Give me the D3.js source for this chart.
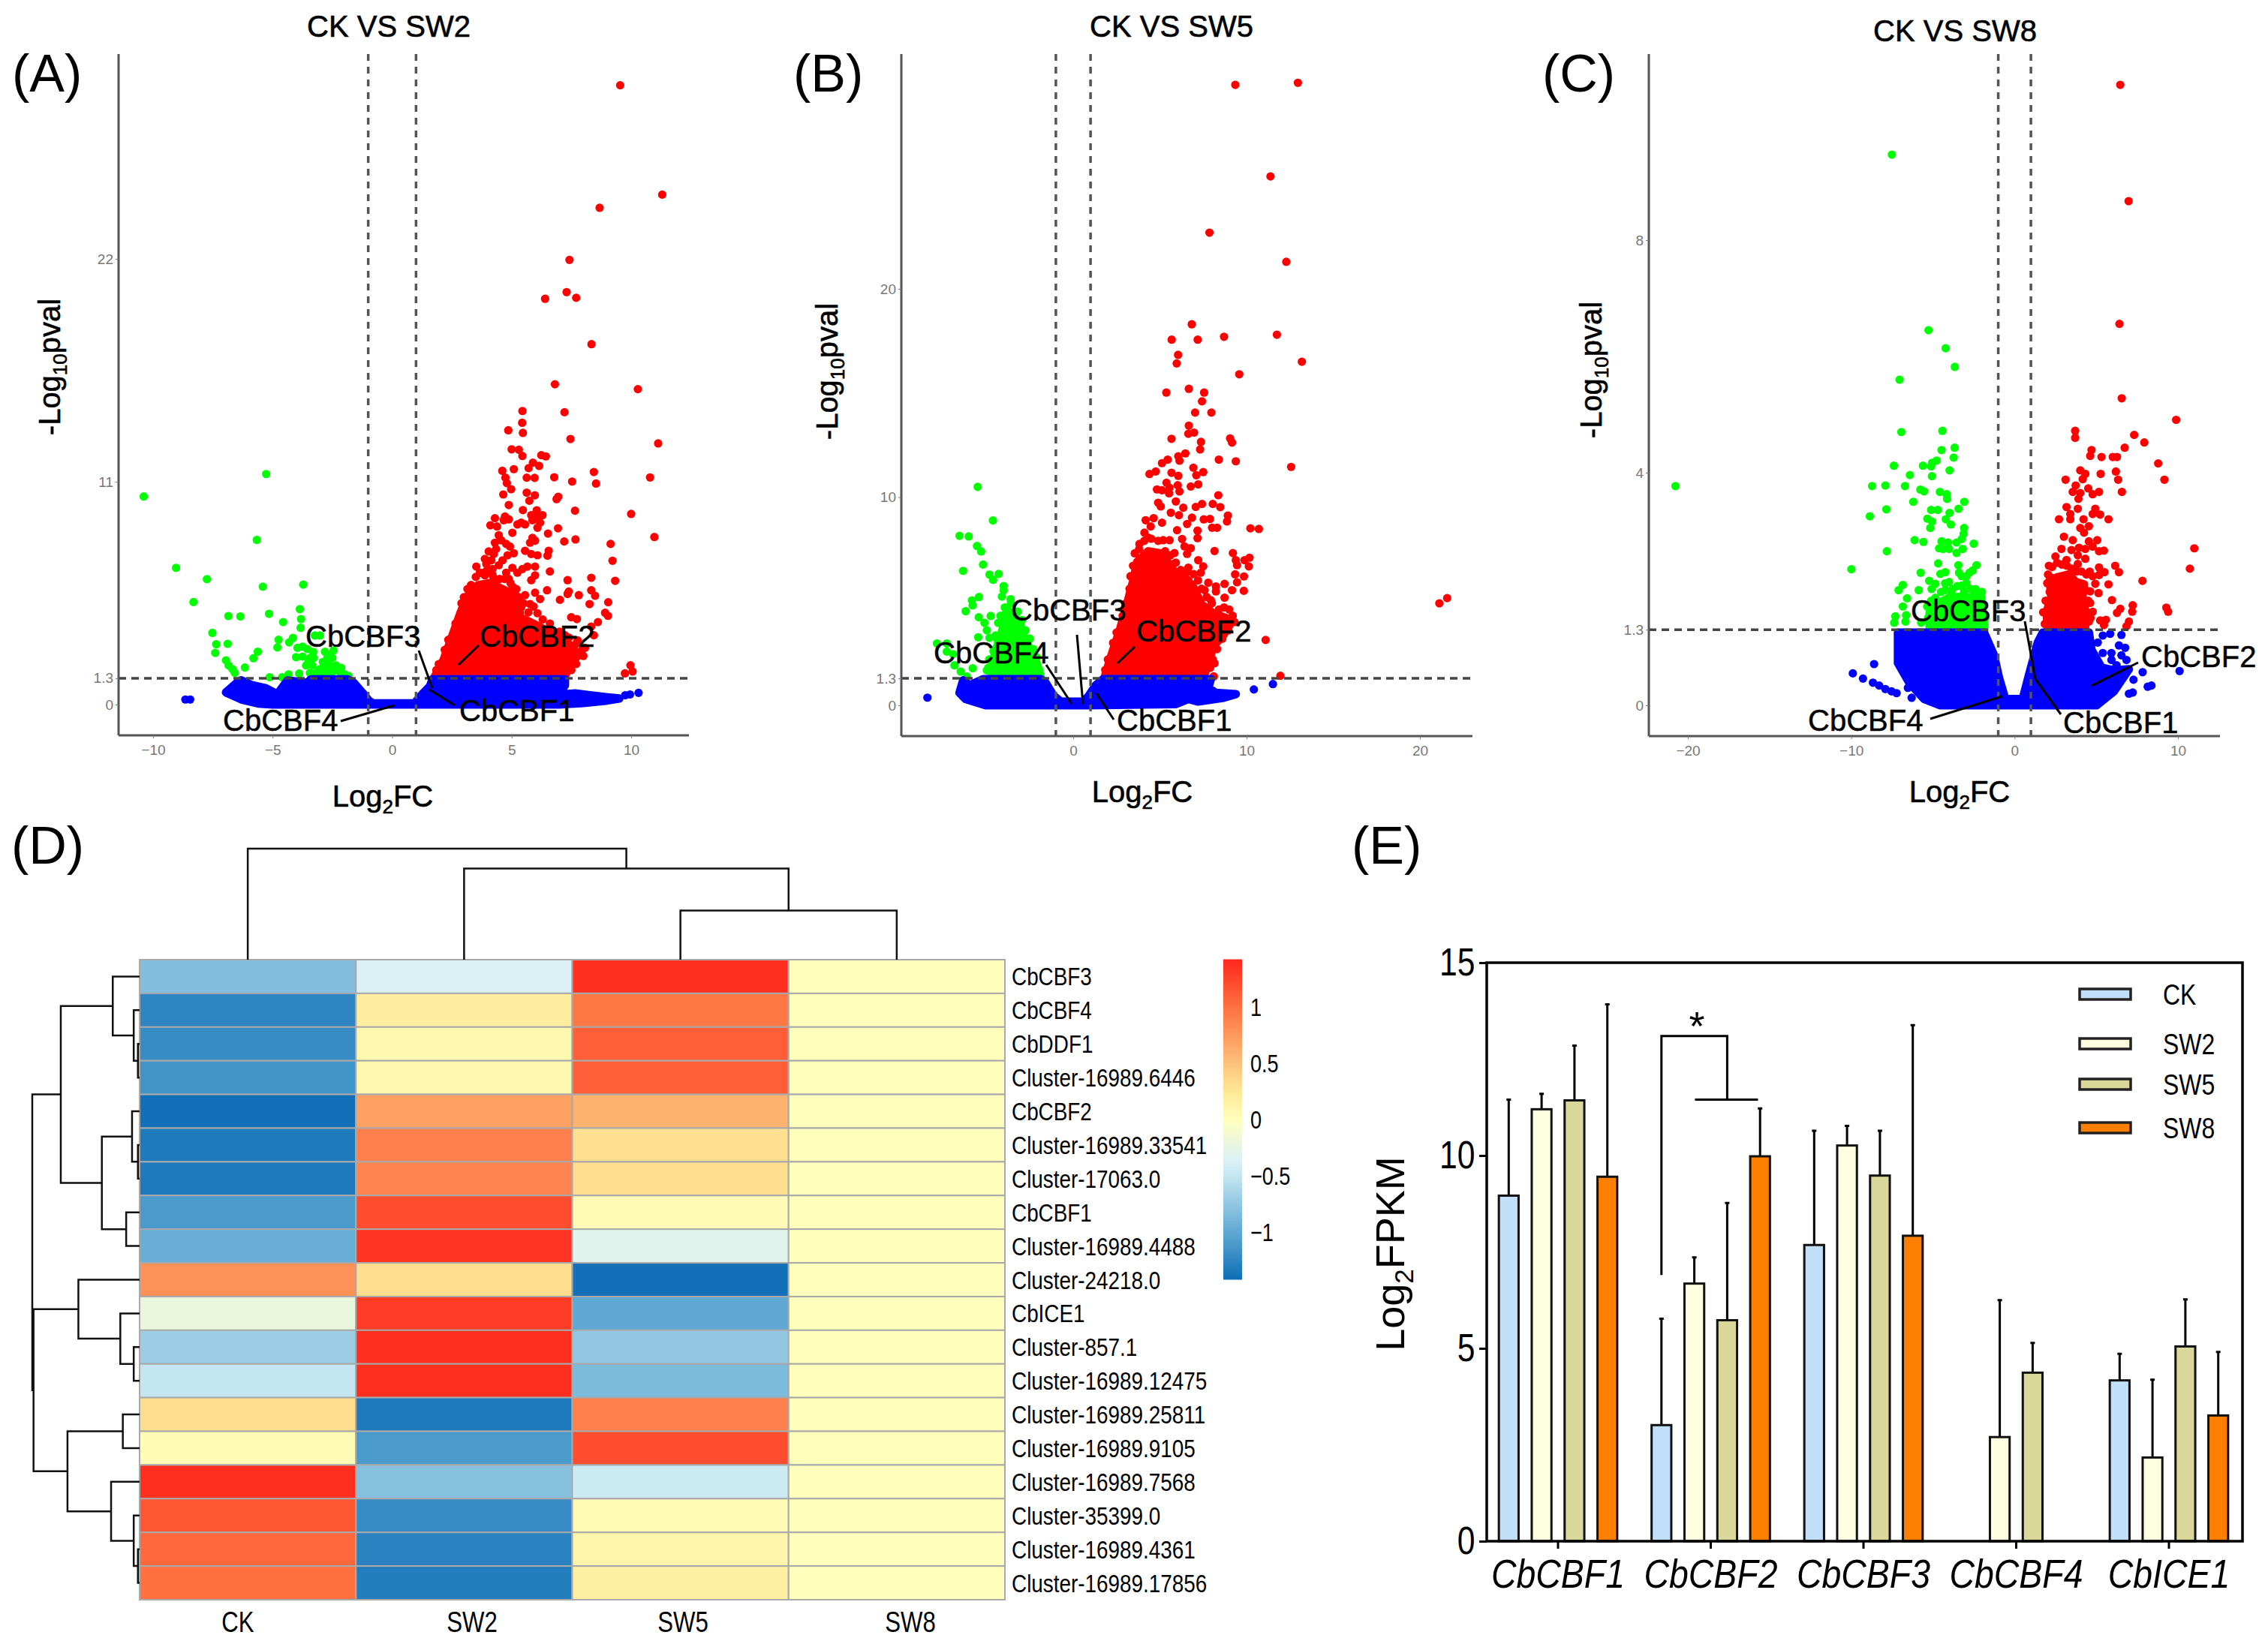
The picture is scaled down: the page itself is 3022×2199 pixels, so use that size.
<!DOCTYPE html>
<html>
<head>
<meta charset="utf-8">
<title>CBF volcano, heatmap and FPKM panels</title>
<script src="https://cdn.jsdelivr.net/npm/d3@7"></script>
<style>
  body { margin: 0; background: #fff; }
  text { font-family: "Liberation Sans", Arial, sans-serif; fill: #000; }
  .vol-tick text { fill: #777; font-size: 19px; }
</style>
</head>
<body>
<div class="chart"></div>
<script>
/* ---- panel A: CK VS SW2, points are [log2FC, -log10 pval] ---- */
const redA = [[9.54,30.57],[11.3,25.17],[8.68,24.52],[7.42,21.95],[7.3,20.36],[7.7,20.08],[6.4,20.03],[8.34,17.79],
  [6.81,15.81],[10.28,15.57],[5.45,14.49],[7.21,14.43],[5.44,13.91],[4.86,13.54],[5.47,13.41],[7.46,13.11],[11.13,12.89],
  [5,12.6],[5.3,12.58],[5.45,12.27],[6.24,12.31],[6.43,12.25],[5.89,11.94],[6.15,11.78],[5.71,11.67],[4.61,11.54],[5.09,11.62],
  [8.44,11.48],[5.63,11.2],[5.96,11.19],[6.78,11.22],[10.79,11.21],[7.53,11.01],[8.53,10.91],[4.74,11.2],[4.8,10.93],[4.98,10.63],
  [4.65,10.37],[5.63,10.46],[5.97,10.33],[5.74,10.06],[6.95,10.26],[6.88,10.14],[4.88,9.85],[5.47,9.6],[6.05,9.59],[7.65,9.57],
  [10,9.41],[5.82,9.35],[6.29,9.35],[6.03,9.28],[4.3,9.2],[4.72,9.28],[4.88,9.14],[4.67,9.1],[4.11,8.85],[4.39,8.79],[5.24,8.89],
  [5.56,8.89],[5.4,8.98],[6.19,8.98],[6.08,8.73],[5.87,9.1],[5.03,8.48],[6.52,8.44],[6.94,8.7],[10.97,8.27],[7.2,8.05],[7.67,8.15],
  [5.87,8.23],[5.77,7.99],[5.98,8.09],[9.14,7.93],[4.46,8.36],[4.56,8.11],[4.77,7.93],[4.3,7.99],[4.93,7.8],[9.22,7.1],[6.6,6.57],
  [8.33,6.26],[7.34,6.14],[9.33,6.11],[6.48,5.64],[7.02,5.17],[7.39,5.58],[7.34,5.46],[7.81,5.4],[8.33,5.64],[8.49,5.37],[8.26,4.96],
  [9.04,5.05],[8.91,4.53],[9.03,4.38],[7.49,4.31],[7.73,4.22],[8.61,4.07],[8.33,3.85],[8.44,3.42],[8.07,2.8],[7.86,2.49],[9.97,1.94],
  [9.74,1.54],[10.06,1.63],[5.98,5.52],[6.19,5.21],[5.77,4.96],[6.08,4.51],[5.92,4.84],[5.56,5.4],[5.98,6.81],[5.98,6.38],[5.82,6.14],
  [5.66,6.81],[5.24,6.51],[5.45,6.69],[5.03,6.75],[4.77,6.51],[4.88,6.2],[4.04,7.56],[5.09,7.47],[3.88,7.19],[4.35,7.68],[4.25,7.43],
  [4.62,7.12],[4.15,7.12],[4.83,7.37],[5.56,7.59],[5.82,7.43],[6.08,7.37],[6.55,7.59],[6.5,7.35],[3.52,6.81],[3.67,6.51],[3.94,6.94],
  [4.2,6.69],[4.46,6.88],[4.25,6.26],[3.88,6.38],[5.14,5.64],[5.3,5.27],[5.03,5.83],[7.23,3.42],[7.76,3.17],
  [2.9,5],[3,5.3],[3.15,5.7],[3.3,5.9],[3.5,6.3],[3.75,6.5],[3.95,6.6],[4.2,6.4],[4.5,6.2],[4.7,6.2],[4.95,6],[5.2,5.7],[5.5,5],[5.4,4.8],
  [5.7,4.55],[6.3,4.2],[6.6,4],[7,3.6],[7.4,3.3],[7.7,3],[7.95,2.7],[8,2.4],[7.7,2],[7.5,1.7],[2.65,4],[2.35,3.2],[2.2,2.7],[1.95,2],[1.85,1.7]];
const redCoreA = [[1.75,1.3],[2.15,2.2],[2.55,3.5],[2.85,4.5],[3.15,5.35],[3.6,5.9],[4.09,6],[4.7,5.65],[5.3,5.3],[5.35,4.3],
  [5.98,3.95],[6.8,3.45],[7.55,2.85],[7.75,2.4],[7.35,1.75],[7.2,1.3]];
const greenA = [[-5.27,11.38],[-10.39,10.27],[-5.66,8.13],[-9.04,6.75],[-7.75,6.19],[-5.41,5.82],[-3.72,5.92],[-8.31,5.06],[-3.86,4.71],
  [-6.85,4.37],[-6.35,4.35],[-5.15,4.48],[-3.81,4.22],[-4.56,4.07],[-3.83,3.79],[-7.52,3.54],[-4.15,3.29],[-4.31,3.07],[-4.75,3.2],
  [-4.8,2.82],[-7.36,2.98],[-6.88,3],[-7.4,2.55],[-5.62,2.61],[-5.8,2.29],[-6.16,1.83],[-6.95,2.18],[-6.84,1.93],[-6.68,1.75],[-6.58,1.56],
  [-5.12,1.35],[-4.6,1.35],[-4.33,1.49],[-3.89,1.53],[-1.82,1.41],[-3.96,2.8],[-3.75,2.86],[-3.55,2.74],[-3.23,3.41],[-3.02,3.41],
  [-4.02,2.34],[-3.75,2.37],[-3.44,2.3],[-3.28,2.3],[-3.6,1.93],[-3.34,1.93],[-2.81,2.61],[-2.45,2.67],[-2.71,2.3],[-2.5,2.3],[-2.81,2.06],
  [-2.6,1.93],[-2.34,1.93],[-2.13,1.81],[-3.02,1.75],[-3.44,1.56],[-3.13,1.62],[-2.81,1.62],[-2.5,1.62],[-2.18,1.62],
  [-2.9,2.1],[-2.3,1.7],[-2.6,1.5],[-3,1.45],[-3.3,1.5],[-2,1.5],[-2.9,1.8],[-2.7,1.8],[-3.5,2.1],[-3.3,2.6],[-2.6,2.45]];
const blueCoreA = [[-6.95,.6],[-6.5,1.07],[-6.32,1.2],[-5.85,.95],[-5.32,.82],[-4.8,.51],[-4.38,1.19],[-3.55,1.07],[-3.4,1.25],[-1.87,1.25],
  [-1.6,1.07],[-1.24,.58],[-.98,.2],[-.8,.06],[.8,.06],[.95,.09],[1.27,.52],[1.58,.9],[1.69,1.25],[7.23,1.25],[7.23,.95],[6.97,.5],[7.65,.55],
  [8.2,.47],[9,.36],[9.5,.3],[9,.2],[8,.08],[7,0],[-5,0],[-5.6,.05],[-6.3,.25]];
const blueA = [[9.75,.46],[9.95,.5],[10.31,.58],[-8.65,.25],[-8.45,.25]];

/* ---- panel B: CK VS SW5 ---- */
const redB = [[9.35,29.8],[12.96,29.9],[11.38,25.4],[7.86,22.7],[12.29,21.3],[6.84,18.3],[11.75,17.8],[8.7,17.7],[7.18,17.56],[5.68,17.56],
  [6.05,16.83],[5.97,16.42],[13.19,16.5],[9.58,15.9],[12.57,11.45],[21.12,4.9],[21.57,5.15],[11.1,3.14],[11.95,1.42],
  [5.37,15.02],[6.67,15.2],[7.55,15.02],[7.43,14.6],[7.03,14.06],[7.97,14.06],[6.67,13.43],[6.97,13.1],[6.64,13.04],[5.67,12.8],[9.05,12.82],
  [9.16,12.62],[7.37,12.65],[7.32,12.29],[6.47,12.1],[6.06,11.96],[5.45,11.8],[6.13,11.75],[5.12,11.63],[8.4,11.8],[9.38,11.72],[6.93,11.41],
  [7.5,11.2],[7.1,11.05],[4.76,11.23],[4.4,11.11],[5.67,11.17],[6.06,11.02],[5.38,10.69],[5.56,10.45],[6.03,10.57],[6.13,10.27],[4.83,10.37],
  [5.12,10.33],[5.53,10.18],[6.78,10.51],[7.21,10.61],[8.37,10.09],[4.9,9.73],[5.05,9.55],[5.92,9.79],[6.35,9.49],[7.43,9.67],[7.07,9.53],
  [8.05,9.67],[8.48,9.52],[5.63,9.25],[6.1,9.13],[8.92,9.11],[8.87,8.83],[6.85,9.01],[6.57,8.71],[4.18,8.89],[4.64,8.99],[5.12,8.77],[4.47,8.59],
  [7.53,8.93],[7.89,8.95],[8.01,8.53],[8.3,8.53],[10.22,8.5],[10.71,8.47],[7.17,8.39],[7.17,8.03],[5.99,8.41],[6.28,7.99],[4.11,8.29],[3.82,7.75],
  [4.33,8.05],[5.19,7.93],[5.56,7.93],[6.42,7.63],[6.78,7.55],[8.15,7.41],[5.84,7.31],[6.57,7.27],[9.21,7.31],[9.38,6.97],[9.45,6.73],[10.17,7.09],
  [9.88,6.97],[10.13,6.67],[9.34,6.29],[9.85,6.19],[9.45,5.91],[9.84,5.5],[7.21,6.97],[7.5,6.67],[7.36,6.37],[5.92,6.85],[6.06,6.31],[6.64,6.61],
  [6.42,6.25],[6.64,6.01],[7.79,5.89],[8.23,5.71],[7.58,5.53],[8.73,5.83],[9.16,5.53],[8.23,5.47],[7.94,5.05],[7.36,4.75],[8.73,5.17],[8.15,2.02],[8.11,1.39],
  [3.05,4.9],[3.25,5.6],[3.3,6.2],[3.45,6.7],[3.55,7.3],[3.8,7.5],[4.1,7.9],[4.5,8],[4.9,7.9],[5.3,7.4],[5.6,7.2],[5.8,6.8],[6.2,6.5],[6.6,6.4],
  [6.95,6.3],[7.2,6],[7.4,5.6],[7.7,5.2],[8,4.9],[8.4,4.6],[8.7,4.7],[9,4.6],[9.2,4.3],[9.3,4],[8.95,3.6],[8.6,3.2],[8.3,2.7],[8.05,2.2],[7.9,1.8],
  [2.85,4.3],[2.5,3.5],[2.3,3],[2,2.2],[1.85,1.7]];
const redCoreB = [[1.8,1.3],[2.2,2.4],[2.72,3.7],[3.15,5],[3.45,5.95],[3.7,6.9],[4.33,7.4],[5.05,7.3],[5.55,6.75],[6.1,6.05],[6.85,5.8],
  [7.4,4.85],[8.1,4.4],[8.8,4.2],[9.05,3.9],[8.6,3.3],[8.12,2.9],[7.84,2.2],[7.5,1.3]];
const greenB = [[-5.51,10.49],[-4.63,8.88],[-6.56,8.14],[-6.03,8.11],[-5.55,7.65],[-5.31,7.39],[-5.2,6.76],[-6.35,6.46],[-4.83,6.28],[-4.3,6.31],
  [-4.62,6.03],[-4.01,5.73],[-4.01,5.52],[-4.11,5.22],[-5.44,5.2],[-5.84,5.04],[-5.8,4.8],[-3.61,5.1],[-6.2,4.52],[-5.45,4.23],[-4.76,4.29],
  [-5.12,3.96],[-4.98,3.6],[-4.33,3.96],[-5.48,3.27],[-7.86,2.97],[-7.29,2.97],[-7.29,2.58],[-6.93,2.46],[-6.85,1.92],[-6.49,1.62],[-6.13,1.38],
  [-5.8,1.78],[-4.98,1.68],[-4.83,3.24],[-4.47,3.36],
  [-4.4,3.2],[-4.6,2.6],[-4.85,2.2],[-4.9,1.8],[-4.2,4.3],[-3.95,4.7],[-3.6,4.9],[-3.2,4.5],[-2.95,4.1],[-2.75,3.6],[-2.5,3.2],[-2.3,2.7],[-2.1,2.3],[-1.95,1.7]];
const greenCoreB = [[-4.7,1.3],[-4.7,1.9],[-4.4,2.8],[-4.05,3.7],[-4.1,4.2],[-3.75,4.55],[-3.1,4],[-2.82,3.2],[-2.52,2.75],[-2.1,2],[-1.85,1.3]];
const blueCoreB = [[-6.56,.6],[-6.35,1.2],[-5.99,.96],[-5.19,1.26],[-1.88,1.26],[-1.59,1.08],[-1.15,.48],[-.72,.18],[.58,.18],[.87,.42],[1.3,.96],
  [1.73,1.26],[7.94,1.26],[7.79,.84],[8.22,.6],[9.38,.54],[8.6,.35],[7.21,.18],[6.64,.3],[5.92,.06],[.87,0],[-5.05,0],[-6.2,.3]];
const blueB = [[10.42,.76],[11.52,1.02],[-8.41,.37]];

/* ---- panel C: CK VS SW8 ---- */
const redC = [[6.47,10.67],[6.98,8.67],[6.42,6.56],[6.56,5.28],[9.89,4.91],[7.32,4.65],[7.94,4.52],[11,2.7],[10.73,2.35],[7.83,2.14],
  [3.71,4.72],[3.71,4.6],[6.74,4.43],[4.71,4.39],[4.63,4.29],[5.32,4.27],[6.01,4.27],[6.27,4.27],[8.79,4.16],[4.02,4.04],[4.33,3.98],[4.17,3.89],
  [5.27,3.98],[6.2,4.02],[6.34,3.88],[9.17,3.88],[3.12,3.88],[3.74,3.78],[4.51,3.73],[3.56,3.67],[4.02,3.65],[3.91,3.55],[4.78,3.63],[5.17,3.67],
  [6.57,3.67],[3.18,3.41],[3.87,3.38],[3.41,3.29],[2.72,3.2],[3.41,3.2],[4.22,3.2],[4.94,3.38],[4.78,3.29],[5.24,3.28],[5.75,3.2],[4.02,3.05],
  [4.55,3.08],[4.25,2.97],[3.02,2.9],[3.56,2.84],[4.55,2.82],[5.06,2.84],[4.78,2.73],[3.94,2.71],[4.33,2.69],[2.87,2.69],[3.48,2.67],[5.47,2.66],
  [5.17,2.65],[2.5,2.56],[3.87,2.58],[3.18,2.5],[4.33,2.52],[6.16,2.4],[6.39,2.29],[3.87,2.43],[5.17,2.37],[5.5,2.29],[5.75,2.08],[4.94,2.09],
  [5.17,2.24],[4.78,2.22],[5.14,1.93],[4.63,1.96],[5.96,1.81],[7.23,1.72],[7.2,1.61],[6.47,1.66],[6.27,1.59],[9.29,1.68],[9.4,1.61],[4.63,1.76],
  [4.78,1.61],[4.25,1.59],[7,1.44],[6.85,1.36],[5.24,1.46],[5.59,1.47],[5.47,1.38],[4.55,1.44],
  [2.1,2.4],[2.3,2.38],[2,2.1],[2.15,1.95],[1.9,1.8],[1.75,1.6],[1.85,1.4],[2.6,2.45],[2.9,2.42],[3.2,2.4],[3.5,2.35],[3.8,2.3],[4.1,2.3],[4.4,2.25],
  [4.6,2.3],[4.3,2],[4.5,1.8],[4.65,1.5],[2.2,2.2],[2.05,2.25]];
const redCoreC = [[2.05,1.3],[1.95,1.6],[2.25,1.85],[2.15,2.15],[2.6,2.2],[3.3,2.25],[3.75,2.12],[4.25,2.08],[4.15,1.85],[4.4,1.55],[4.3,1.3]];
const greenC = [[-7.51,9.47],[-5.27,6.45],[-4.22,6.14],[-3.66,5.82],[-7.04,5.6],[-20.76,3.77],[-6.93,4.7],[-4.42,4.72],[-3.67,4.43],[-4.47,4.39],
  [-3.73,4.26],[-4.77,4.21],[-5.05,4.17],[-5.11,4.11],[-5.61,4.12],[-7.39,4.12],[-3.98,4.04],[-6.41,3.96],[-5.06,3.94],[-8.72,3.77],[-7.91,3.78],
  [-6.71,3.77],[-5.77,3.71],[-5.54,3.68],[-4.57,3.67],[-4.16,3.63],[-4.13,3.55],[-6.2,3.5],[-3.08,3.5],[-3.43,3.38],[-7.85,3.37],[-5.11,3.36],
  [-4.7,3.36],[-3.98,3.31],[-8.86,3.25],[-5.34,3.21],[-5.05,3.16],[-5.16,3.05],[-4.21,3.2],[-3.9,3.11],[-3.09,3.05],[-3.12,2.95],[-3.24,2.86],
  [-6.12,2.84],[-5.58,2.81],[-2.5,2.78],[-4.47,2.82],[-4.08,2.8],[-4.39,2.69],[-4.62,2.7],[-4.01,2.69],[-3.55,2.8],[-3.17,2.69],[-3.55,2.62],
  [-7.82,2.65],[-4.68,2.44],[-9.99,2.34],[-3.44,2.41],[-2.33,2.41],[-2.56,2.32],[-3.4,2.28],[-2.94,2.22],[-3.24,2.22],[-2.76,2.28],[-5.75,2.28],
  [-4.54,2.26],[-4.24,2.29],[-5.23,2.14],[-4.85,2.09],[-5.08,2],[-4.01,2.12],[-3.24,2.06],[-6.84,2.07],[-7.1,1.98],[-5.87,1.98],[-6.58,1.84],
  [-6.84,1.7],[-7.3,1.53],[-7.37,1.42],[-6.64,1.55],[-6.68,1.44],[-5.72,1.42],[-4.24,1.98],[-3.86,1.94],[-3.09,1.96],[-2.48,1.96],[-2.02,1.85],
  [-5.3,1.5],[-5.35,1.7],[-5.1,1.8],[-4.85,1.85],[-4.5,1.95],[-4.25,2.1],[-3.8,2],[-3.5,2.05],[-2.95,2.1],[-2.7,2],[-2.4,2],[-2.15,1.9],[-1.95,1.75],[-1.8,1.5],[-2,1.95]];
const greenCoreC = [[-5.2,1.3],[-5.2,1.6],[-4.7,1.75],[-4.01,1.85],[-3.09,1.87],[-2.33,1.82],[-1.95,1.62],[-1.85,1.3]];
const blueCoreC = [[-7.14,1.25],[-1.87,1.25],[-1.26,.86],[-.95,.47],[-.57,.11],[.5,.11],[.88,.52],[1.42,1.08],[1.73,1.25],[4.55,1.25],[4.71,.95],
  [5.32,.65],[6.08,.6],[7,.62],[6.08,.24],[5.01,0],[-4.54,0],[-5.54,.11],[-6.45,.39],[-7.14,.73]];
const blueC = [[5.4,1.2],[5.85,1.23],[6.54,1.21],[5.09,1.08],[5.4,.9],[6.39,1.03],[5.93,.9],[6.77,.99],[5.93,.78],[6.54,.86],[6.85,.78],[6.24,.69],
  [7.28,.44],[7.84,.57],[8.15,.32],[7.23,.22],[8.38,.34],[7,.2],[-9.9,.55],[-9.28,.46],[-8.6,.71],[-8.67,.39],[-8.29,.34],[-7.91,.28],[-7.53,.24],
  [-7.22,.21],[-6.53,.3],[-6.3,.13],[10.1,.59]];

/* ---- panel D: heatmap, one row per gene, columns CK SW2 SW5 SW8 ---- */
const heatCols = ["CK", "SW2", "SW5", "SW8"];
const heatRows = ["CbCBF3", "CbCBF4", "CbDDF1", "Cluster-16989.6446", "CbCBF2", "Cluster-16989.33541", "Cluster-17063.0", "CbCBF1",
  "Cluster-16989.4488", "Cluster-24218.0", "CbICE1", "Cluster-857.1", "Cluster-16989.12475", "Cluster-16989.25811", "Cluster-16989.9105",
  "Cluster-16989.7568", "Cluster-35399.0", "Cluster-16989.4361", "Cluster-16989.17856"];
const heatValues = [
  [-0.82, -0.36, 1.38, 0], [-1.25, 0.2, 0.95, 0.02], [-1.2, 0.08, 1.1, 0.02], [-1.15, 0.08, 1.1, 0],
  [-1.4, 0.7, 0.6, 0], [-1.33, 0.9, 0.3, 0], [-1.33, 0.87, 0.32, 0], [-1.1, 1.2, 0.05, 0],
  [-0.95, 1.35, -0.3, 0], [0.8, 0.32, -1.4, 0], [-0.2, 1.3, -1, 0], [-0.7, 1.38, -0.75, 0],
  [-0.5, 1.38, -0.85, 0], [0.32, -1.33, 0.9, 0], [0.05, -1.1, 1.2, 0], [1.38, -0.8, -0.45, 0],
  [1.15, -1.2, 0.05, 0], [1.05, -1.27, 0.12, 0], [1, -1.3, 0.17, 0]];
const heatLegendTicks = [-1, -0.5, 0, 0.5, 1];
/* dendrograms: [height, child, child], a number is a leaf index */
const colTree = [212, 0, [174, 1, [94, 2, 3]]];
const rowTree = [128,
  [94, [32, 0, [7, 1, [2, 2, 3]]], [45, [9, 4, [2, 5, 6]], [16, 7, 8]]],
  [126.5, [73, 9, [23, 10, [7, 11, 12]]], [86, [20, 13, 14], [34, 15, [7, 16, [2, 17, 18]]]]]];

/* ---- panel E: bars and upper error bars, null = no bar ---- */
const genes = ["CbCBF1", "CbCBF2", "CbCBF3", "CbCBF4", "CbICE1"];
const groups = ["CK", "SW2", "SW5", "SW8"];
const groupColors = ["#c1dff8", "#fefee0", "#d9d79a", "#ff8000"];
const fpkmCK = [8.96, 3.01, 7.68, null, 4.17];
const fpkmSW2 = [11.2, 6.68, 10.26, 2.7, 2.17];
const fpkmSW5 = [11.43, 5.73, 9.48, 4.37, 5.05];
const fpkmSW8 = [9.45, 9.98, 7.92, null, 3.26];
const errCK = [11.45, 5.77, 10.64, null, 4.86];
const errSW2 = [11.6, 7.36, 10.77, 6.25, 4.19];
const errSW5 = [12.85, 8.77, 10.64, 5.14, 6.27];
const errSW8 = [13.92, 11.22, 13.38, null, 4.91];
const fpkmTicks = [0, 5, 10, 15];

/* initialize SVG */
const width = 3022;
const height = 2199;
const svg = d3.select(".chart").append("svg")
  .attr("width", width)
  .attr("height", height)
  .attr("viewBox", [0, 0, width, height])
  .style("display", "block");

/* the figure's heatmap and bar labels are condensed, no narrow font is installed */
const NARROW = 0.82;

/* text with a subscript part: pre, sub, post */
function subText(g, pre, sub, post, size) {
  const t = g.append("text").attr("font-size", size).attr("text-anchor", "middle")
    .attr("stroke", "#000").attr("stroke-width", 0.6);
  t.append("tspan").text(pre);
  t.append("tspan").text(sub).attr("font-size", size * 0.65).attr("dy", size * 0.22);
  t.append("tspan").text(post).attr("dy", -size * 0.22);
  return t;
}

/* panel letters */
[["(A)", 16, 98], ["(B)", 1057, 98], ["(C)", 2055, 98], ["(D)", 15, 1127], ["(E)", 1801, 1127]].forEach(([s, x, y]) => {
  svg.append("text").attr("x", x).attr("y", y + 24).attr("font-size", 70).text(s);
});

const RADIUS = 5.6;

function volcano(p) {
  const g = svg.append("g");
  const x = d3.scaleLinear().domain(p.xRef).range(p.xPx);
  const y = d3.scaleLinear().domain(p.yRef).range(p.yPx);
  const frame = p.frame;

  const ring = d3.line().x(d => x(d[0])).y(d => y(d[1])).curve(d3.curveLinearClosed);
  const dots = (data, color) => g.append("g").selectAll("circle")
    .data(data)
    .join("circle")
      .attr("cx", d => x(d[0]))
      .attr("cy", d => y(d[1]))
      .attr("r", RADIUS)
      .attr("fill", color);
  /* the dense middle of each cloud, stroke stands in for the dot radius */
  const core = (data, color) => g.append("path")
    .attr("d", ring(data))
    .attr("fill", color)
    .attr("stroke", color)
    .attr("stroke-width", RADIUS * 2)
    .attr("stroke-linejoin", "round");

  if (p.greenCore) core(p.greenCore, "#00ff00");
  dots(p.green, "#00ff00");
  core(p.redCore, "#ff0000");
  dots(p.red, "#ff0000");
  core(p.blueCore, "#0000ff");
  dots(p.blue, "#0000ff");

  /* threshold lines */
  [-1, 1].forEach(v => {
    g.append("line")
      .attr("x1", x(v)).attr("x2", x(v))
      .attr("y1", frame.top).attr("y2", frame.bottom)
      .attr("stroke", "#555").attr("stroke-width", 3.5).attr("stroke-dasharray", "9 8");
  });
  g.append("line")
    .attr("x1", frame.left).attr("x2", frame.right)
    .attr("y1", y(1.3)).attr("y2", y(1.3))
    .attr("stroke", "#444").attr("stroke-width", 3.5).attr("stroke-dasharray", "10 7");

  /* axes */
  const xAxis = g.append("g").attr("class", "vol-tick")
    .attr("transform", `translate(0,${frame.bottom})`)
    .call(d3.axisBottom(x).tickValues(p.xTicks).tickSizeOuter(0).tickSize(4).tickPadding(9));
  const yAxis = g.append("g").attr("class", "vol-tick")
    .attr("transform", `translate(${frame.left},0)`)
    .call(d3.axisLeft(y).tickValues(p.yTicks).tickFormat(d => d).tickSizeOuter(0).tickSize(4).tickPadding(3));
  [xAxis, yAxis].forEach(a => {
    a.selectAll("line").attr("stroke", "#777");
    a.selectAll("text").attr("font-size", 19);
  });
  xAxis.select(".domain").attr("d", `M${frame.left},0H${frame.right}`).attr("stroke", "#555").attr("stroke-width", 3);
  yAxis.select(".domain").attr("d", `M0,${frame.top}V${frame.bottom}`).attr("stroke", "#555").attr("stroke-width", 3);

  /* titles */
  g.append("text").attr("x", p.title[1]).attr("y", p.title[2] + 14)
    .attr("text-anchor", "middle").attr("font-size", 40)
    .attr("stroke", "#000").attr("stroke-width", 0.6).text(p.title[0]);
  subText(g, "-Log", "10", "pval", 40)
    .attr("transform", `translate(${p.yLabel[0]},${p.yLabel[1]}) rotate(-90)`);
  subText(g, "Log", "2", "FC", 40)
    .attr("transform", `translate(${p.xLabel[0]},${p.xLabel[1]})`);

  /* gene labels with leader lines */
  p.notes.forEach(n => {
    g.append("line")
      .attr("x1", n.line[0]).attr("y1", n.line[1]).attr("x2", n.line[2]).attr("y2", n.line[3])
      .attr("stroke", "#000").attr("stroke-width", 3);
    g.append("text").attr("x", n.x).attr("y", n.y + 14).attr("font-size", 40)
      .attr("stroke", "#000").attr("stroke-width", 0.5).text(n.label);
  });
}

volcano({
  title: ["CK VS SW2", 518, 35], yLabel: [80, 489], xLabel: [510, 1075],
  frame: {left: 158, right: 918, top: 72, bottom: 980},
  xRef: [-10, 10], xPx: [204, 841], yRef: [0, 22], yPx: [939, 345],
  xTicks: [-10, -5, 0, 5, 10], yTicks: [0, 1.3, 11, 22],
  red: redA, redCore: redCoreA, green: greenA, blue: blueA, blueCore: blueCoreA,
  notes: [
    {label: "CbCBF3", x: 407, y: 848, line: [558, 867, 576, 917]},
    {label: "CbCBF2", x: 639, y: 848, line: [638, 860, 611, 886]},
    {label: "CbCBF1", x: 612, y: 947, line: [606, 940, 572, 919]},
    {label: "CbCBF4", x: 297, y: 960, line: [454, 961, 526, 940]}
  ]
});
volcano({
  title: ["CK VS SW5", 1561, 35], yLabel: [1116, 495], xLabel: [1522, 1069],
  frame: {left: 1201, right: 1962, top: 72, bottom: 981},
  xRef: [0, 20], xPx: [1430, 1892], yRef: [0, 20], yPx: [940, 385],
  xTicks: [0, 10, 20], yTicks: [0, 1.3, 10, 20],
  red: redB, redCore: redCoreB, green: greenB, greenCore: greenCoreB, blue: blueB, blueCore: blueCoreB,
  notes: [
    {label: "CbCBF3", x: 1347, y: 813, line: [1435, 846, 1443, 938]},
    {label: "CbCBF2", x: 1514, y: 841, line: [1512, 862, 1489, 884]},
    {label: "CbCBF4", x: 1244, y: 870, line: [1394, 886, 1428, 938]},
    {label: "CbCBF1", x: 1488, y: 960, line: [1484, 959, 1461, 924]}
  ]
});
volcano({
  title: ["CK VS SW8", 2605, 41], yLabel: [2134, 493], xLabel: [2611, 1069],
  frame: {left: 2197, right: 2958, top: 72, bottom: 981},
  xRef: [-20, 10], xPx: [2249, 2902], yRef: [0, 8], yPx: [940, 320],
  xTicks: [-20, -10, 0, 10], yTicks: [0, 1.3, 4, 8],
  red: redC, redCore: redCoreC, green: greenC, greenCore: greenCoreC, blue: blueC, blueCore: blueCoreC,
  notes: [
    {label: "CbCBF3", x: 2546, y: 814, line: [2698, 828, 2712, 905]},
    {label: "CbCBF2", x: 2853, y: 875, line: [2849, 883, 2787, 914]},
    {label: "CbCBF4", x: 2409, y: 960, line: [2572, 958, 2668, 928]},
    {label: "CbCBF1", x: 2749, y: 963, line: [2746, 952, 2712, 905]}
  ]
});

/* ---- heatmap ---- */
const hx = d3.scaleBand().domain(d3.range(heatCols.length)).range([186, 1339]);
const hy = d3.scaleBand().domain(d3.range(heatRows.length)).range([1279, 2132]);
const heatColor = d3.scaleLinear()
  .domain([-1.41, -1, -0.5, -0.35, 0, 0.25, 0.5, 1, 1.41])
  .range(["#0f6fb6", "#5fa8d3", "#c4e6f1", "#dcf1f5", "#ffffbd", "#fee896", "#fdc27a", "#ff7040", "#ff2a1e"]);

svg.append("g").selectAll("g")
  .data(heatValues)
  .join("g")
    .selectAll("rect")
    .data((row, i) => row.map((v, j) => ({v, i, j})))
    .join("rect")
      .attr("x", d => hx(d.j))
      .attr("y", d => hy(d.i))
      .attr("width", hx.bandwidth())
      .attr("height", hy.bandwidth())
      .attr("fill", d => heatColor(d.v))
      .attr("stroke", "#a9a9a9")
      .attr("stroke-width", 2);

svg.append("g").selectAll("text")
  .data(heatRows)
  .join("text")
    .attr("transform", (d, i) => `translate(1348,${hy(i) + hy.bandwidth() / 2 + 12}) scale(${NARROW},1)`)
    .attr("font-size", 34)
    .text(d => d);

/* column labels sit a little off their cell centres in the figure */
const colLabelX = [317, 629, 910, 1213];
svg.append("g").selectAll("text")
  .data(heatCols)
  .join("text")
    .attr("transform", (d, i) => `translate(${colLabelX[i]},2175) scale(${NARROW},1)`)
    .attr("text-anchor", "middle")
    .attr("font-size", 38)
    .text(d => d);

/* dendrograms, node position is the mean of its two children */
function drawTree(node, leafPos, path) {
  if (typeof node === "number") return {pos: leafPos(node), h: 0};
  const a = drawTree(node[1], leafPos, path);
  const b = drawTree(node[2], leafPos, path);
  path(a, b, node[0]);
  return {pos: (a.pos + b.pos) / 2, h: node[0]};
}
const treeG = svg.append("g").attr("fill", "none").attr("stroke", "#111").attr("stroke-width", 2.5);
const colH = d3.scaleLinear().domain([0, 212]).range([1279, 1131]);
drawTree(colTree, i => hx(i) + hx.bandwidth() / 2, (a, b, h) => {
  treeG.append("path").attr("d", `M${a.pos},${colH(a.h)}V${colH(h)}H${b.pos}V${colH(b.h)}`);
});
const rowH = d3.scaleLinear().domain([0, 128]).range([186, 43]);
drawTree(rowTree, i => hy(i) + hy.bandwidth() / 2, (a, b, h) => {
  treeG.append("path").attr("d", `M${rowH(a.h)},${a.pos}H${rowH(h)}V${b.pos}H${rowH(b.h)}`);
});

/* colour key */
const keyY = d3.scaleLinear().domain([-1, 1]).range([1642, 1342]);
svg.append("g").selectAll("rect")
  .data(d3.range(-1.41, 1.42, 0.02))
  .join("rect")
    .attr("x", 1630)
    .attr("width", 25)
    .attr("y", d => keyY(d) - 2)
    .attr("height", 4)
    .attr("fill", d => heatColor(d));
svg.append("g").selectAll("text")
  .data(heatLegendTicks)
  .join("text")
    .attr("transform", d => `translate(1666,${keyY(d) + 12}) scale(${NARROW},1)`)
    .attr("font-size", 33)
    .text(d => String(d).replace("-", "\u2212"));

/* ---- bar panel ---- */
const barFrame = {left: 1981, right: 2988, top: 1283, bottom: 2054};
const x0 = d3.scaleBand().domain(genes).range([1974.25, 2991.75]);
const x1 = d3.scaleBand().domain(groups).range([-87.6, 87.6]).paddingInner(0.4).paddingOuter(0.2);
const yBar = d3.scaleLinear().domain([0, 15]).range([barFrame.bottom, barFrame.top]);
const barSeries = [fpkmCK, fpkmSW2, fpkmSW5, fpkmSW8];
const errSeries = [errCK, errSW2, errSW5, errSW8];
const barCenter = (gene, grp) => x0(gene) + x0.bandwidth() / 2 + x1(grp) + x1.bandwidth() / 2;

const barG = svg.append("g");
groups.forEach((grp, s) => {
  genes.forEach((gene, i) => {
    const v = barSeries[s][i];
    if (v === null) return;
    const cx = barCenter(gene, grp);
    /* upper error bar */
    barG.append("path")
      .attr("d", `M${cx},${yBar(v)}V${yBar(errSeries[s][i])}M${cx - 3},${yBar(errSeries[s][i])}H${cx + 3}`)
      .attr("stroke", "#000").attr("stroke-width", 3).attr("fill", "none");
    barG.append("rect")
      .attr("x", cx - x1.bandwidth() / 2)
      .attr("y", yBar(v))
      .attr("width", x1.bandwidth())
      .attr("height", yBar(0) - yBar(v))
      .attr("fill", groupColors[s])
      .attr("stroke", "#111")
      .attr("stroke-width", 3);
  });
});

/* frame and axes */
barG.append("rect")
  .attr("x", barFrame.left).attr("y", barFrame.top)
  .attr("width", barFrame.right - barFrame.left).attr("height", barFrame.bottom - barFrame.top)
  .attr("fill", "none").attr("stroke", "#000").attr("stroke-width", 3.5);
const barX = barG.append("g")
  .attr("transform", `translate(0,${barFrame.bottom})`)
  .call(d3.axisBottom(x0).tickSizeOuter(0).tickSize(10).tickPadding(14));
barX.select(".domain").remove();
barX.selectAll("line").attr("stroke", "#000").attr("stroke-width", 3);
barX.selectAll("text")
  .attr("font-size", 54)
  .attr("font-style", "italic")
  .attr("fill", "#000")
  .attr("transform", "scale(0.86,1)");
const barY = barG.append("g")
  .attr("transform", `translate(${barFrame.left},0)`)
  .call(d3.axisLeft(yBar).tickValues(fpkmTicks).tickSize(10).tickPadding(9));
barY.select(".domain").remove();
barY.selectAll("line").attr("stroke", "#000").attr("stroke-width", 3);
barY.selectAll("text")
  .attr("font-size", 52)
  .attr("fill", "#000")
  .attr("transform", `scale(${NARROW},1)`);
subText(barG, "Log", "2", "FPKM", 54)
  .attr("stroke-width", 0)
  .attr("transform", `translate(1871,1671) rotate(-90)`);

/* significance bracket between CK and SW5/SW8 of CbCBF2 */
const brLeft = barCenter("CbCBF2", "CK");
const brMid = barCenter("CbCBF2", "SW5");
barG.append("path")
  .attr("d", `M${brLeft},${yBar(6.9)}V${yBar(13.1)}H${brMid}V${yBar(11.45)}`)
  .attr("fill", "none").attr("stroke", "#000").attr("stroke-width", 3);
barG.append("path")
  .attr("d", `M${brMid - 43},${yBar(11.45)}H${brMid + 41}`)
  .attr("fill", "none").attr("stroke", "#000").attr("stroke-width", 3);
barG.append("text").attr("x", 2261).attr("y", 1386)
  .attr("text-anchor", "middle").attr("font-size", 54).text("*");

/* legend */
const legendY = [1325, 1391, 1445, 1503];
groups.forEach((grp, i) => {
  barG.append("rect")
    .attr("x", 2771).attr("y", legendY[i] - 7)
    .attr("width", 68).attr("height", 14)
    .attr("fill", groupColors[i]).attr("stroke", "#222").attr("stroke-width", 3.5);
  barG.append("text")
    .attr("transform", `translate(2882,${legendY[i] + 14}) scale(${NARROW},1)`)
    .attr("font-size", 39).text(grp);
});
</script>
</body>
</html>
